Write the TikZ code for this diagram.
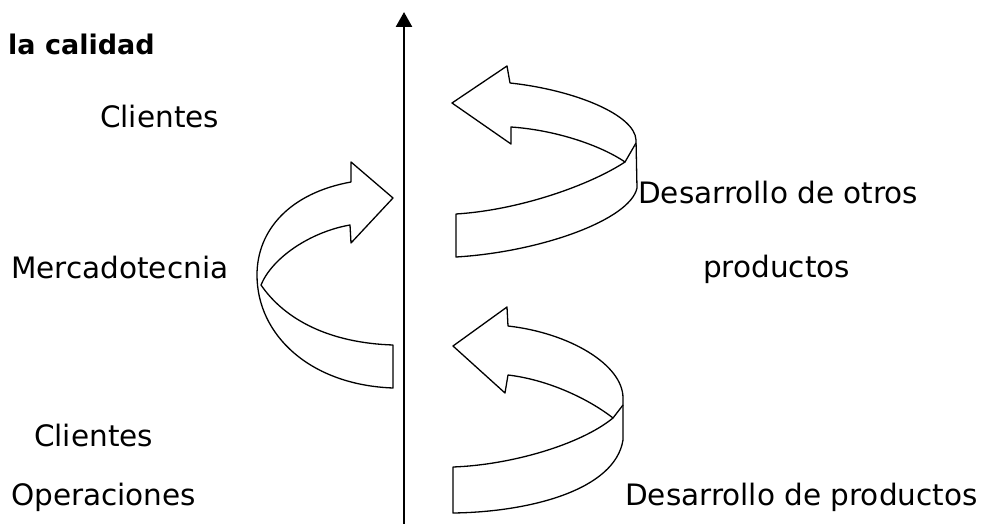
\documentclass[tikz,border=0pt]{standalone}
\usepackage{fontspec}
\setmainfont{DejaVu Sans}
\usetikzlibrary{arrows.meta}
\begin{document}
\begin{tikzpicture}[x=1pt,y=-1pt,
  lbl/.style={anchor=base west, inner sep=0pt, font=\fontsize{29.5}{30}\selectfont},
  ribbon/.style={line width=1.3pt, line join=round, fill=white},
  edge/.style={line width=1.3pt},
  axis/.style={line width=2.6pt, -{Triangle[length=15pt,width=16pt]}}]
\useasboundingbox (0,0) rectangle (994,524);
% axis
\coordinate (axb) at (404,524);
\coordinate (axt) at (404,12);
\draw[axis] (axb) -- (axt);
% labels
\node[lbl, font=\fontsize{27}{28}\selectfont\bfseries] (cal) at (8,55) {la calidad};
\node[lbl] (cli1) at (100,128) {Clientes};
\node[lbl] (mer) at (11,278) {Mercadotecnia};
\node[lbl] (cli2) at (34,446) {Clientes};
\node[lbl] (ope) at (11,505) {Operaciones};
\node[lbl] (dot) at (638,204) {Desarrollo de otros};
\node[lbl] (pro) at (703,277) {productos};
\node[lbl] (dpr) at (625,505) {Desarrollo de productos};
% left ribbon arrow
\draw[ribbon] (351,182) -- (351,162) -- (393,198) -- (351,243) -- (350,225)
  .. controls (310,232) and (272,258) .. (261,285)
  .. controls (285,320) and (330,343) .. (393,345)
  -- (393,388)
  .. controls (310,385) and (257,335) .. (257,275)
  .. controls (257,230) and (290,193) .. (351,182) -- cycle;
% upper right ribbon arrow
\draw[ribbon] (510,83) -- (507,66) -- (452,103) -- (511,144) -- (511,127)
  .. controls (555,130) and (600,145) .. (625,162)
  .. controls (590,185) and (520,210) .. (456,214)
  -- (456,257)
  .. controls (540,252) and (630,220) .. (637,188)
  -- (636,140)
  .. controls (635,115) and (575,90) .. (510,83) -- cycle;
\draw[edge] (625,162) -- (636,143);
% lower right ribbon arrow
\draw[ribbon] (508,326) -- (507,307) -- (453,346) -- (505,393) -- (508,375)
  .. controls (550,380) and (590,400) .. (613,418)
  .. controls (580,445) and (510,465) .. (453,467)
  -- (453,513)
  .. controls (530,512) and (615,490) .. (623,440)
  -- (623,398)
  .. controls (623,365) and (570,333) .. (508,326) -- cycle;
\draw[edge] (613,418) -- (623,405);
\end{tikzpicture}
\end{document}
